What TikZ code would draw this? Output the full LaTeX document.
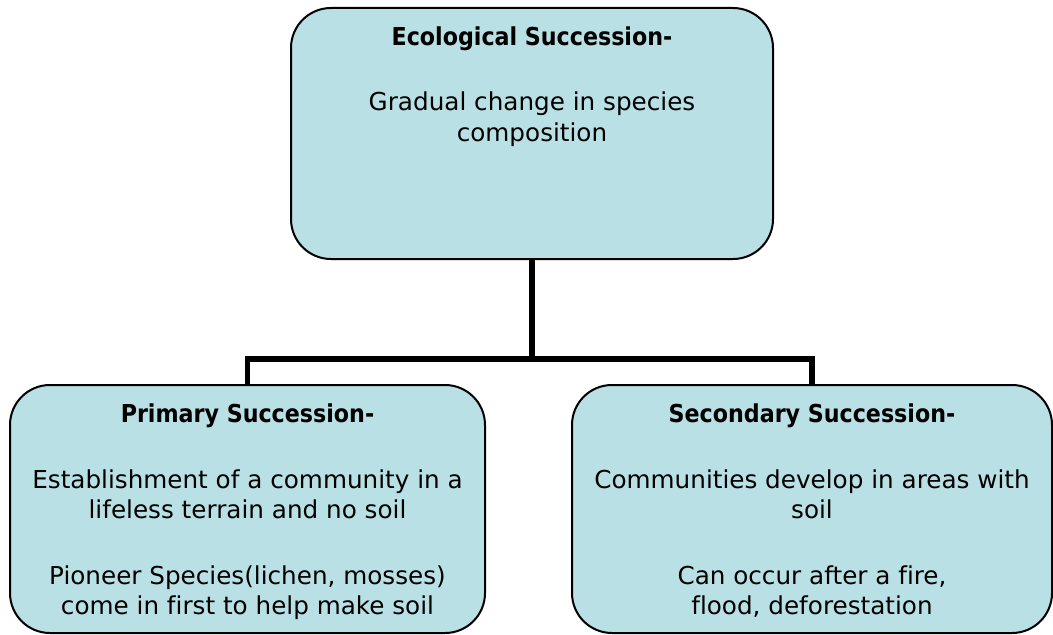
\documentclass[tikz,border=0pt]{standalone}
\usepackage{fontspec}
\setmainfont[Ligatures=NoCommon]{DejaVu Sans}
\newfontfamily\titlefont{DejaVu Sans Condensed}
\usepackage{tikz}
\usetikzlibrary{positioning}
\usepackage{xcolor}
\definecolor{boxfill}{RGB}{185,224,228}

% box content: fixed size, text hangs from the top
\newcommand{\succtext}[3]{%
  \begin{minipage}[c][#2][t]{#1}\centering
  \fontsize{18.5pt}{22.5pt}\selectfont #3\end{minipage}}
\newcommand{\succtitle}[1]{\rule{0pt}{27.75pt}{\titlefont\bfseries #1}}

\begin{document}
\begin{tikzpicture}[
  x=0.75pt, y=-0.75pt,
  succbox/.style={rectangle, rounded corners=30pt, draw, fill=boxfill,
    line width=1.5pt, inner sep=0pt},
  branch/.style={draw, line width=4pt},
]
  \useasboundingbox (0,0) rectangle (1053,635);

  % === top box ===
  \node[succbox] (eco) at (532,133.5) {\succtext{361.5pt}{188.25pt}{%
    \succtitle{Ecological Succession-}\\[27pt]
    Gradual change in species\\ composition}};

  % === bottom boxes ===
  \node[succbox] (prim) at (247.5,509) {\succtext{356.25pt}{186pt}{%
    \succtitle{Primary Succession-}\\[27pt]
    Establishment of a community in a\\ lifeless terrain and no soil\\[27pt]
    Pioneer Species(lichen, mosses)\\ come in first to help make soil}};
  \node[succbox] (sec) at (812,509) {\succtext{360pt}{186pt}{%
    \succtitle{Secondary Succession-}\\[27pt]
    Communities develop in areas with\\ soil\\[27pt]
    Can occur after a fire,\\ flood, deforestation}};

  % === connectors ===
  \coordinate (fork) at (532,359);
  \path[branch] (eco) -- (fork);
  \path[branch] (prim.north) |- (fork) -| (sec.north);

\end{tikzpicture}
\end{document}
